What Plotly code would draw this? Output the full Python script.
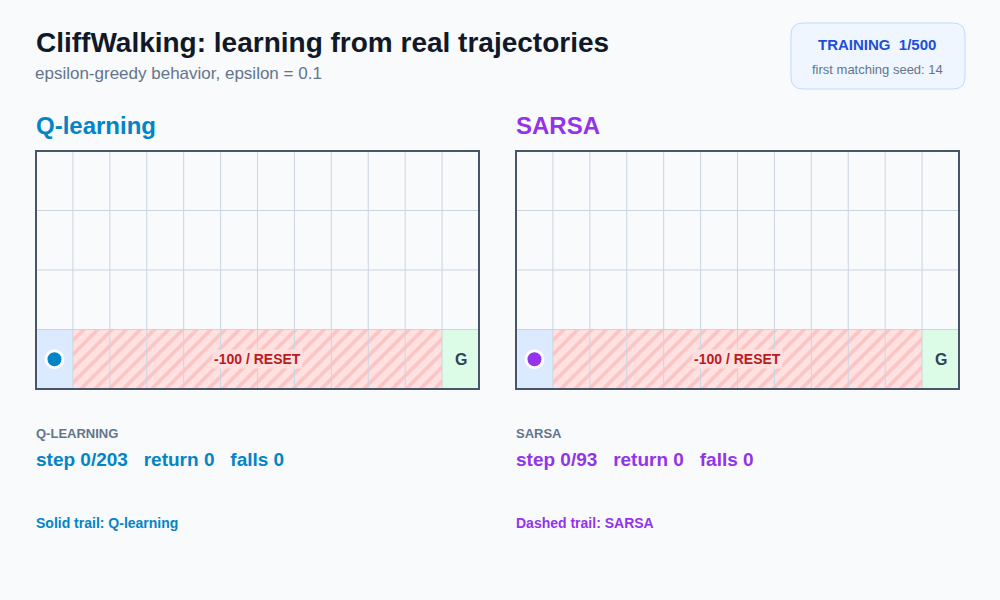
import plotly.graph_objects as go

# ---- data ----
n_rows = 4
n_cols = 12
cliff_cols = [1, 2, 3, 4, 5, 6, 7, 8, 9, 10]
start_cell = (0, 0)   # (col, row)
goal_cell = (11, 0)
agents = ["Q-learning", "SARSA"]
agent_labels = ["Q-LEARNING", "SARSA"]
agent_colors = ["#0284c7", "#9333ea"]
agent_steps = [0, 0]
agent_totals = [203, 93]
agent_returns = [0, 0]
agent_falls = [0, 0]
trail_labels = ["Solid trail: Q-learning", "Dashed trail: SARSA"]
episode = 1
episodes_total = 500
seed = 14
epsilon = 0.1

W, H = 1000, 600
def px(x): return x / W
def py(y): return 1 - y / H

FONT = "Liberation Sans, Arial, Helvetica, sans-serif"
NB = "\u00a0"

fig = go.Figure()
shapes = []
annotations = []

panel_left = [36, 516]
panel_w = 443
panel_top, panel_bot = 151, 389

for i, name in enumerate(agents):
    ax = "" if i == 0 else str(i + 1)
    xa, ya = "x" + ax, "y" + ax
    x0 = panel_left[i]
    fig.update_layout(**{
        "xaxis" + ax: dict(domain=[px(x0), px(x0 + panel_w)], range=[0, n_cols],
                           showgrid=False, zeroline=False, showticklabels=False,
                           ticks="", fixedrange=True, anchor=ya),
        "yaxis" + ax: dict(domain=[py(panel_bot), py(panel_top)], range=[0, n_rows],
                           showgrid=False, zeroline=False, showticklabels=False,
                           ticks="", fixedrange=True, anchor=xa),
    })
    # cell background
    shapes.append(dict(type="rect", xref=xa, yref=ya, x0=0, x1=n_cols, y0=0, y1=n_rows,
                       fillcolor="#f8fafc", line=dict(width=0), layer="below"))
    # start & goal
    shapes.append(dict(type="rect", xref=xa, yref=ya, x0=start_cell[0], x1=start_cell[0] + 1,
                       y0=start_cell[1], y1=start_cell[1] + 1, fillcolor="#dbeafe",
                       line=dict(width=0), layer="below"))
    shapes.append(dict(type="rect", xref=xa, yref=ya, x0=goal_cell[0], x1=goal_cell[0] + 1,
                       y0=goal_cell[1], y1=goal_cell[1] + 1, fillcolor="#dcfce7",
                       line=dict(width=0), layer="below"))
    # cliff
    fig.add_trace(go.Bar(
        x=[(min(cliff_cols) + max(cliff_cols) + 1) / 2], y=[1], base=[0],
        width=[len(cliff_cols)], xaxis=xa, yaxis=ya,
        marker=dict(color="#fee2e2", line=dict(width=0),
                    pattern=dict(shape="/", fgcolor="#fca5a5", bgcolor="#fee2e2",
                                 size=10, solidity=0.38)),
        hoverinfo="skip", showlegend=False))
    # grid lines
    for c in range(1, n_cols):
        shapes.append(dict(type="line", xref=xa, yref=ya, x0=c, x1=c, y0=0, y1=n_rows,
                           line=dict(color="#cbd5e1", width=1), layer="above"))
    for r in range(1, n_rows):
        shapes.append(dict(type="line", xref=xa, yref=ya, x0=0, x1=n_cols, y0=r, y1=r,
                           line=dict(color="#cbd5e1", width=1), layer="above"))
    # frame (paper coords, so it is not clipped)
    shapes.append(dict(type="rect", xref="paper", yref="paper", x0=px(x0), x1=px(x0 + panel_w),
                       y0=py(panel_bot), y1=py(panel_top),
                       line=dict(color="#475569", width=2), fillcolor="rgba(0,0,0,0)",
                       layer="above"))
    # agent
    fig.add_trace(go.Scatter(
        x=[start_cell[0] + 0.5], y=[start_cell[1] + 0.5], xaxis=xa, yaxis=ya,
        mode="markers", marker=dict(size=17, color=agent_colors[i],
                                    line=dict(color="white", width=3)),
        hoverinfo="skip", showlegend=False, cliponaxis=False))
    # cell texts
    annotations.append(dict(xref=xa, yref=ya, x=(min(cliff_cols) + max(cliff_cols) + 1) / 2,
                            y=0.5, text="<b>-100 / RESET</b>", showarrow=False,
                            bgcolor="rgba(254,226,226,0.8)", borderpad=1,
                            font=dict(family=FONT, size=14, color="#b91c1c")))
    annotations.append(dict(xref=xa, yref=ya, x=goal_cell[0] + 0.5, y=goal_cell[1] + 0.5,
                            text="<b>G</b>", showarrow=False,
                            font=dict(family=FONT, size=16, color="#334155")))
    # panel title
    annotations.append(dict(xref="paper", yref="paper", x=px(x0 - 2), y=py(125),
                            xanchor="left", yanchor="middle", text="<b>%s</b>" % name,
                            showarrow=False, font=dict(family=FONT, size=24, color=agent_colors[i])))
    # stats
    annotations.append(dict(xref="paper", yref="paper", x=px(x0 - 2), y=py(433),
                            xanchor="left", yanchor="middle", text="<b>%s</b>" % agent_labels[i],
                            showarrow=False, font=dict(family=FONT, size=13, color="#64748b")))
    stat = "step %d/%d%sreturn %d%sfalls %d" % (agent_steps[i], agent_totals[i], NB * 3,
                                                 agent_returns[i], NB * 3, agent_falls[i])
    annotations.append(dict(xref="paper", yref="paper", x=px(x0 - 2), y=py(459),
                            xanchor="left", yanchor="middle", text="<b>%s</b>" % stat,
                            showarrow=False, font=dict(family=FONT, size=19, color=agent_colors[i])))
    annotations.append(dict(xref="paper", yref="paper", x=px(x0 - 2), y=py(523),
                            xanchor="left", yanchor="middle", text="<b>%s</b>" % trail_labels[i],
                            showarrow=False, font=dict(family=FONT, size=14, color=agent_colors[i])))

# title & subtitle
annotations.append(dict(xref="paper", yref="paper", x=px(34), y=py(42), xanchor="left",
                        yanchor="middle", showarrow=False,
                        text="<b>CliffWalking: learning from real trajectories</b>",
                        font=dict(family=FONT, size=28, color="#111827")))
annotations.append(dict(xref="paper", yref="paper", x=px(33), y=py(74), xanchor="left",
                        yanchor="middle", showarrow=False,
                        text="epsilon-greedy behavior, epsilon = %s" % epsilon,
                        font=dict(family=FONT, size=17, color="#64748b")))

# info box (rounded)
bx0, bx1, by0, by1, rr = 791, 965, 23, 89, 12
path = ("M {a},{b} L {c},{b} Q {d},{b} {d},{e} L {d},{f} Q {d},{g} {c},{g} "
        "L {a},{g} Q {h},{g} {h},{f} L {h},{e} Q {h},{b} {a},{b} Z").format(
    a=px(bx0 + rr), b=py(by0), c=px(bx1 - rr), d=px(bx1), e=py(by0 + rr),
    f=py(by1 - rr), g=py(by1), h=px(bx0))
shapes.append(dict(type="path", xref="paper", yref="paper", path=path,
                   fillcolor="#eff6ff", line=dict(color="#bfdbfe", width=1), layer="below"))
annotations.append(dict(xref="paper", yref="paper", x=px(877), y=py(44), xanchor="center",
                        yanchor="middle", showarrow=False,
                        text="<b>TRAINING%s%d/%d</b>" % (NB * 2, episode, episodes_total),
                        font=dict(family=FONT, size=15, color="#1d4ed8")))
annotations.append(dict(xref="paper", yref="paper", x=px(877), y=py(69), xanchor="center",
                        yanchor="middle", showarrow=False,
                        text="first matching seed: %d" % seed,
                        font=dict(family=FONT, size=13, color="#64748b")))

fig.update_layout(
    width=W, height=H, margin=dict(l=0, r=0, t=0, b=0),
    paper_bgcolor="#f8fafc", plot_bgcolor="#f8fafc",
    shapes=shapes, annotations=annotations, barmode="overlay",
    showlegend=False, font=dict(family=FONT),
)

fig.write_html("out.html", config={"displayModeBar": False},
               post_script="document.body.style.margin='0';"
                           "document.body.style.background='#f8fafc';")
